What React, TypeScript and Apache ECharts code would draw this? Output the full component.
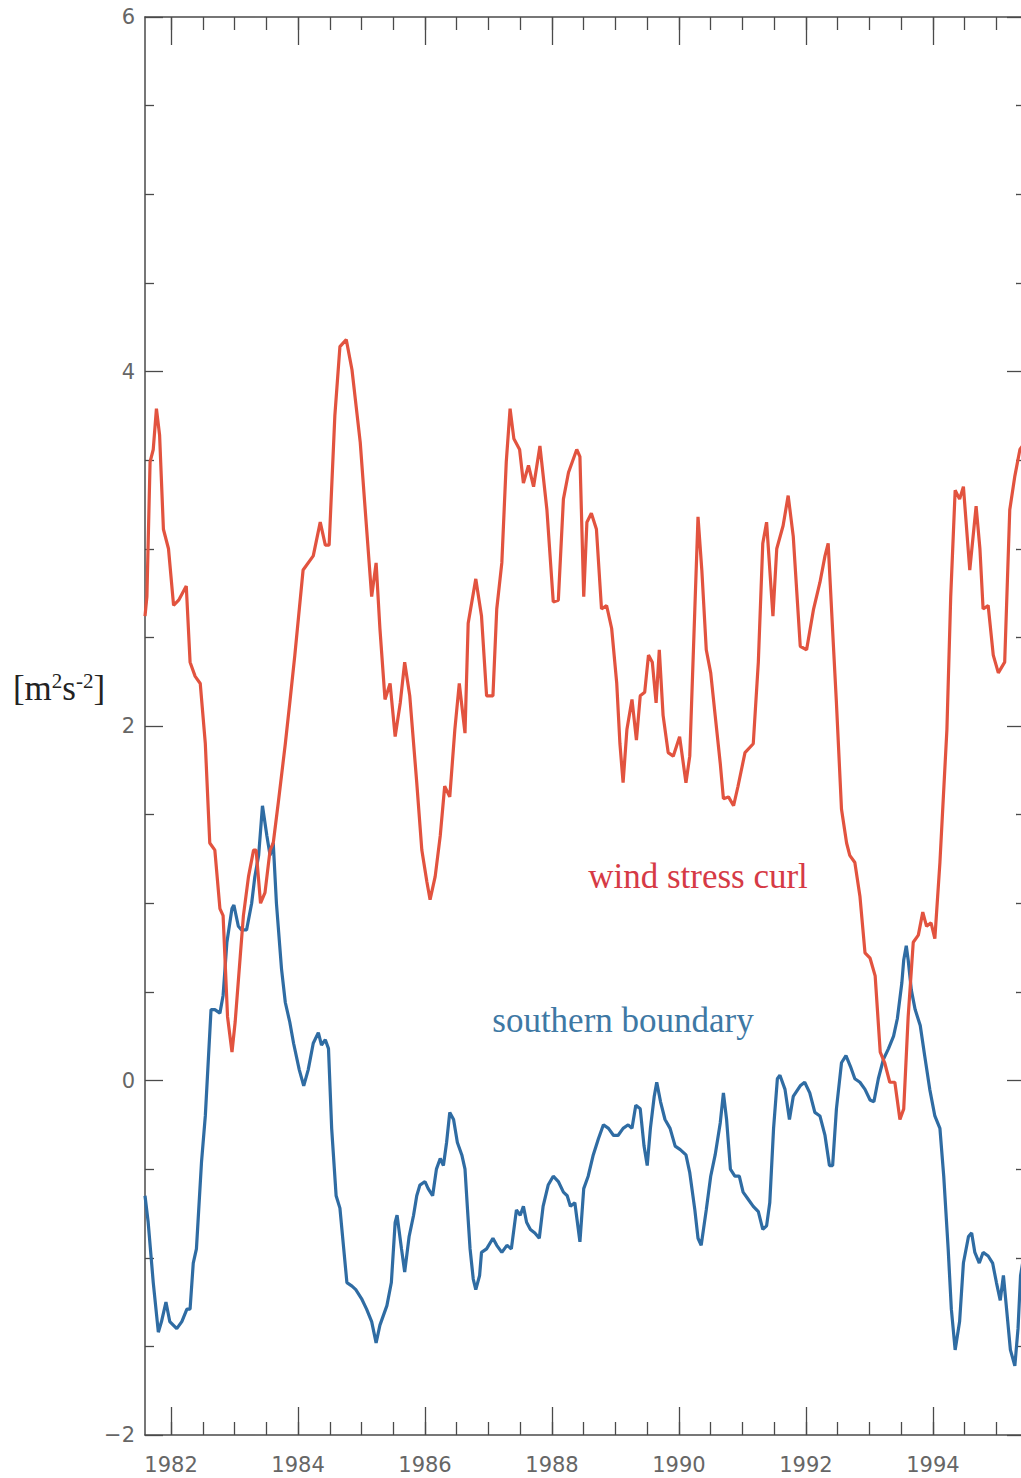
import React, { useEffect, useRef } from "react";
import * as echarts from "echarts";

// ---- data ----
const redYears = [
  1981.59, 1981.62, 1981.67, 1981.72, 1981.77, 1981.82, 1981.88, 1981.96, 1982.04, 1982.12,
  1982.24, 1982.3, 1982.38, 1982.46, 1982.54, 1982.61, 1982.69, 1982.77, 1982.82, 1982.89,
  1982.96, 1983.01, 1983.09, 1983.14, 1983.22, 1983.3, 1983.34, 1983.41, 1983.48, 1983.56,
  1983.61, 1983.69, 1983.8, 1983.87, 1983.95, 1984.08, 1984.24, 1984.35, 1984.43, 1984.49,
  1984.58, 1984.66, 1984.76, 1984.85, 1984.98, 1985.05, 1985.16, 1985.23, 1985.29, 1985.37,
  1985.45, 1985.53, 1985.61, 1985.68, 1985.76, 1985.87, 1985.95, 1986.03, 1986.08, 1986.16,
  1986.24, 1986.31, 1986.39, 1986.47, 1986.54, 1986.63, 1986.68, 1986.8, 1986.89, 1986.97,
  1987.07, 1987.13, 1987.21, 1987.28, 1987.34, 1987.4, 1987.49, 1987.55, 1987.63, 1987.71,
  1987.81, 1987.92, 1988.02, 1988.1, 1988.18, 1988.26, 1988.39, 1988.44, 1988.5, 1988.55,
  1988.62, 1988.7, 1988.78, 1988.86, 1988.94, 1989.02, 1989.07, 1989.12, 1989.18, 1989.26,
  1989.33, 1989.39, 1989.46, 1989.52, 1989.58, 1989.64, 1989.69, 1989.75, 1989.83, 1989.91,
  1990.01, 1990.11, 1990.17, 1990.25, 1990.3, 1990.36, 1990.43, 1990.5, 1990.57, 1990.65,
  1990.7, 1990.78, 1990.86, 1990.93, 1991.04, 1991.17, 1991.25, 1991.32, 1991.38, 1991.48,
  1991.54, 1991.64, 1991.72, 1991.8, 1991.91, 1992.01, 1992.12, 1992.22, 1992.3, 1992.35,
  1992.43, 1992.48, 1992.56, 1992.64, 1992.69, 1992.77, 1992.85, 1992.93, 1993.01, 1993.09,
  1993.17, 1993.24, 1993.32, 1993.4, 1993.48, 1993.54, 1993.61, 1993.69, 1993.77, 1993.84,
  1993.9, 1993.97, 1994.03, 1994.11, 1994.22, 1994.28, 1994.35, 1994.42, 1994.48, 1994.58,
  1994.68, 1994.74, 1994.79, 1994.87, 1994.95, 1995.03, 1995.13, 1995.21, 1995.29, 1995.37,
  1995.45,
];
const redValues = [
  2.62, 2.73, 3.49, 3.56, 3.79, 3.64, 3.11, 3.0, 2.68, 2.71,
  2.79, 2.36, 2.28, 2.24, 1.9, 1.34, 1.3, 0.97, 0.93, 0.36,
  0.16, 0.33, 0.7, 0.93, 1.15, 1.3, 1.3, 1.0, 1.06, 1.3,
  1.34, 1.57, 1.9, 2.13, 2.4, 2.88, 2.96, 3.15, 3.02, 3.02,
  3.75, 4.14, 4.18, 4.01, 3.6, 3.26, 2.73, 2.92, 2.55, 2.15,
  2.24, 1.94, 2.13, 2.36, 2.17, 1.68, 1.3, 1.12, 1.02, 1.15,
  1.38, 1.66, 1.6, 1.98, 2.24, 1.96, 2.58, 2.83, 2.62, 2.17,
  2.17, 2.66, 2.92, 3.49, 3.79, 3.62, 3.56, 3.37, 3.47, 3.35,
  3.58, 3.22, 2.7, 2.71, 3.28, 3.43, 3.56, 3.52, 2.73, 3.15,
  3.2, 3.11, 2.66, 2.68, 2.55, 2.24, 1.9, 1.68, 1.98, 2.15,
  1.92, 2.17, 2.19, 2.4, 2.36, 2.13, 2.43, 2.06, 1.85, 1.83,
  1.94, 1.68, 1.83, 2.66, 3.18, 2.88, 2.43, 2.3, 2.06, 1.79,
  1.59, 1.6, 1.55, 1.66, 1.85, 1.9, 2.36, 3.03, 3.15, 2.62,
  3.0, 3.13, 3.3, 3.07, 2.45, 2.43, 2.66, 2.81, 2.96, 3.03,
  2.47, 2.13, 1.53, 1.34, 1.27, 1.23, 1.04, 0.72, 0.69, 0.59,
  0.16, 0.1, -0.01, -0.01, -0.22, -0.16, 0.36, 0.78, 0.82, 0.95,
  0.87, 0.89, 0.8, 1.23, 1.98, 2.73, 3.33, 3.28, 3.35, 2.88,
  3.24, 3.0, 2.66, 2.68, 2.4, 2.3, 2.36, 3.22, 3.41, 3.56,
  3.6,
];

const blueYears = [
  1981.59, 1981.64, 1981.72, 1981.8, 1981.85, 1981.92, 1981.98, 1982.09, 1982.17, 1982.25,
  1982.3, 1982.35, 1982.4, 1982.48, 1982.54, 1982.63, 1982.69, 1982.77, 1982.82, 1982.88,
  1982.96, 1982.99, 1983.06, 1983.11, 1983.19, 1983.27, 1983.32, 1983.38, 1983.44, 1983.51,
  1983.56, 1983.61, 1983.66, 1983.74, 1983.8, 1983.87, 1983.93, 1984.02, 1984.09, 1984.16,
  1984.24, 1984.32, 1984.37, 1984.43, 1984.48, 1984.53, 1984.6, 1984.66, 1984.72, 1984.77,
  1984.85, 1984.91, 1985.0, 1985.08, 1985.16, 1985.23, 1985.29, 1985.4, 1985.47, 1985.53,
  1985.56, 1985.63, 1985.68, 1985.75, 1985.82, 1985.87, 1985.92, 1986.0, 1986.05, 1986.12,
  1986.18, 1986.24, 1986.29, 1986.34, 1986.39, 1986.45, 1986.51, 1986.58, 1986.63, 1986.67,
  1986.71, 1986.76, 1986.8, 1986.86, 1986.89, 1986.97, 1987.07, 1987.13, 1987.21, 1987.29,
  1987.36, 1987.44, 1987.5, 1987.55, 1987.6, 1987.66, 1987.73, 1987.8, 1987.86, 1987.94,
  1988.02, 1988.1, 1988.18, 1988.24, 1988.29, 1988.36, 1988.44, 1988.5, 1988.57, 1988.65,
  1988.73, 1988.81, 1988.89, 1988.97, 1989.04, 1989.12, 1989.2, 1989.26, 1989.32, 1989.39,
  1989.45, 1989.5, 1989.55, 1989.61, 1989.65, 1989.71, 1989.78, 1989.86, 1989.94, 1990.02,
  1990.11, 1990.17, 1990.25, 1990.3, 1990.35, 1990.43, 1990.5, 1990.57, 1990.65, 1990.7,
  1990.75, 1990.81, 1990.88, 1990.95, 1991.01, 1991.09, 1991.17, 1991.25, 1991.32, 1991.38,
  1991.43, 1991.49, 1991.55, 1991.59, 1991.67, 1991.74, 1991.8, 1991.91, 1991.98, 1992.06,
  1992.14, 1992.22, 1992.3, 1992.37, 1992.42, 1992.48, 1992.56, 1992.63, 1992.7, 1992.77,
  1992.85, 1992.93, 1993.01, 1993.07, 1993.14, 1993.22, 1993.3, 1993.38, 1993.44, 1993.51,
  1993.54, 1993.58, 1993.61, 1993.66, 1993.72, 1993.8, 1993.87, 1993.95, 1994.03, 1994.11,
  1994.17, 1994.24, 1994.29, 1994.35, 1994.42, 1994.48, 1994.56, 1994.61, 1994.66, 1994.73,
  1994.79, 1994.87, 1994.94, 1995.0, 1995.06, 1995.11, 1995.16, 1995.22, 1995.29, 1995.34,
  1995.38, 1995.45,
];
const blueValues = [
  -0.65, -0.8, -1.14, -1.42, -1.36, -1.25, -1.36, -1.4, -1.36, -1.29,
  -1.29, -1.03, -0.95, -0.46, -0.2, 0.4, 0.4, 0.38, 0.48, 0.78,
  0.97, 0.99, 0.87, 0.85, 0.85, 1.0, 1.15, 1.27, 1.55, 1.38,
  1.27, 1.34, 1.0, 0.63, 0.44, 0.33, 0.21, 0.06, -0.03, 0.06,
  0.21, 0.27, 0.2, 0.23, 0.18, -0.27, -0.65, -0.72, -0.95, -1.14,
  -1.16, -1.18, -1.23, -1.29, -1.36, -1.48, -1.38, -1.27, -1.14, -0.8,
  -0.76, -0.95, -1.08, -0.88, -0.76, -0.65, -0.59, -0.57, -0.61, -0.65,
  -0.5, -0.44, -0.48, -0.35, -0.18, -0.22, -0.35, -0.42, -0.5, -0.73,
  -0.95, -1.12, -1.18, -1.1, -0.97, -0.95, -0.89, -0.93, -0.97, -0.93,
  -0.95, -0.73, -0.76, -0.71, -0.8, -0.84, -0.86, -0.89, -0.71, -0.59,
  -0.54, -0.57, -0.63, -0.65, -0.71, -0.69, -0.91, -0.61, -0.54, -0.42,
  -0.33, -0.25, -0.27, -0.31, -0.31, -0.27, -0.25, -0.27, -0.14, -0.16,
  -0.37, -0.48, -0.27, -0.09, -0.01, -0.12, -0.22, -0.27, -0.37, -0.39,
  -0.42, -0.52, -0.73, -0.89, -0.93, -0.73, -0.54, -0.42, -0.24, -0.07,
  -0.22, -0.5, -0.54, -0.54, -0.63, -0.67, -0.71, -0.74, -0.84, -0.82,
  -0.69, -0.27, 0.01, 0.03, -0.05, -0.22, -0.09, -0.03, -0.01, -0.07,
  -0.18, -0.2, -0.31, -0.48, -0.48, -0.16, 0.1, 0.14, 0.08, 0.01,
  -0.01, -0.05, -0.11, -0.12, 0.01, 0.12, 0.18, 0.25, 0.35, 0.55,
  0.68, 0.76, 0.68, 0.51, 0.4, 0.31, 0.14, -0.05, -0.2, -0.27,
  -0.54, -0.95, -1.29, -1.52, -1.36, -1.03, -0.88, -0.86, -0.97, -1.03,
  -0.97, -0.99, -1.03, -1.14, -1.24, -1.1, -1.29, -1.52, -1.61, -1.4,
  -1.1, -0.95,
];

const labelYears = [1982, 1984, 1986, 1988, 1990, 1992, 1994];
const halfYearTicks = [
  1982, 1982.5, 1983, 1983.5, 1984, 1984.5, 1985, 1985.5, 1986, 1986.5, 1987, 1987.5,
  1988, 1988.5, 1989, 1989.5, 1990, 1990.5, 1991, 1991.5, 1992, 1992.5, 1993, 1993.5,
  1994, 1994.5, 1995,
];
const xMin = 1981.59;
const xMax = 1995.45;
const yMin = -2;
const yMax = 6;

const RED = "#e2533f";
const BLUE = "#2f6ca3";
const AXIS = "#4a4a4a";

function zip(xs: number[], ys: number[]) {
  return xs.map((x, i) => [x, ys[i]]);
}

export default function App() {
  const ref = useRef<HTMLDivElement>(null);
  useEffect(() => {
    if (!ref.current) return;
    const chart = echarts.init(ref.current, null, { renderer: "svg" });
    const yLabelFmt = (v: number) => (v < 0 ? "\u2212" + Math.abs(v) : String(v));
    const baseX = {
      type: "value",
      min: xMin,
      max: xMax,
      splitLine: { show: false },
    };
    const xLine = (show: boolean) => ({
      show,
      onZero: false,
      lineStyle: { color: AXIS, width: 1.5 },
    });
    const baseY = {
      type: "value",
      min: yMin,
      max: yMax,
      interval: 2,
      splitLine: { show: false },
      axisLine: { show: true, onZero: false, lineStyle: { color: AXIS, width: 1.5 } },
      axisTick: { show: true, inside: true, length: 18, lineStyle: { color: AXIS, width: 1.3 } },
      minorTick: { show: true, splitNumber: 4, length: 9, lineStyle: { color: AXIS, width: 1.3 } },
    };
    chart.setOption({
      animation: false,
      backgroundColor: "#ffffff",
      grid: { left: 145, top: 17, right: 15, bottom: 43, containLabel: false },
      xAxis: [
        {
          ...baseX,
          position: "bottom",
          axisLine: xLine(true),
          axisTick: {
            show: true,
            inside: true,
            length: 28,
            customValues: labelYears,
            lineStyle: { color: AXIS, width: 1.3 },
          },
          axisLabel: {
            show: true,
            customValues: labelYears,
            formatter: (v: number) => String(v),
            color: "#666",
            fontFamily: "DejaVu Sans",
            fontSize: 21,
            margin: 19,
          },
        },
        {
          ...baseX,
          position: "bottom",
          axisLine: xLine(false),
          axisTick: {
            show: true,
            inside: true,
            length: 13,
            customValues: halfYearTicks,
            lineStyle: { color: AXIS, width: 1.3 },
          },
          axisLabel: { show: false },
        },
        {
          ...baseX,
          position: "top",
          axisLine: xLine(true),
          axisTick: {
            show: true,
            inside: true,
            length: 28,
            customValues: labelYears,
            lineStyle: { color: AXIS, width: 1.3 },
          },
          axisLabel: { show: false },
        },
        {
          ...baseX,
          position: "top",
          axisLine: xLine(false),
          axisTick: {
            show: true,
            inside: true,
            length: 13,
            customValues: halfYearTicks,
            lineStyle: { color: AXIS, width: 1.3 },
          },
          axisLabel: { show: false },
        },
      ],
      yAxis: [
        {
          ...baseY,
          position: "left",
          axisLabel: {
            show: true,
            formatter: yLabelFmt,
            color: "#666",
            fontFamily: "DejaVu Sans",
            fontSize: 21,
            margin: 10,
          },
        },
        {
          ...baseY,
          position: "right",
          axisLabel: { show: false },
        },
      ],
      graphic: [
        {
          type: "text",
          x: 59,
          y: 688,
          style: {
            text: "{n|[m}{s|2}{n|s}{s|-2}{n|]}",
            textAlign: "center",
            textVerticalAlign: "middle",
            fill: "#222",
            rich: {
              n: { fontFamily: "Liberation Serif", fontSize: 35, fill: "#222" },
              s: { fontFamily: "Liberation Serif", fontSize: 21, fill: "#222", verticalAlign: "top" },
            },
          },
        },
        {
          type: "text",
          x: 698,
          y: 876,
          style: {
            text: "wind stress curl",
            textAlign: "center",
            textVerticalAlign: "middle",
            fill: "#d63a45",
            fontFamily: "Liberation Serif",
            fontSize: 35,
          },
        },
        {
          type: "text",
          x: 623,
          y: 1020,
          style: {
            text: "southern boundary",
            textAlign: "center",
            textVerticalAlign: "middle",
            fill: "#3e78a4",
            fontFamily: "Liberation Serif",
            fontSize: 35,
          },
        },
      ],
      series: [
        {
          name: "wind stress curl",
          type: "line",
          xAxisIndex: 0,
          yAxisIndex: 0,
          data: zip(redYears, redValues),
          showSymbol: false,
          symbol: "none",
          lineStyle: { color: RED, width: 3.2 },
          z: 3,
        },
        {
          name: "southern boundary",
          type: "line",
          xAxisIndex: 0,
          yAxisIndex: 0,
          data: zip(blueYears, blueValues),
          showSymbol: false,
          symbol: "none",
          lineStyle: { color: BLUE, width: 3.2 },
          z: 2,
        },
      ],
    });
    return () => chart.dispose();
  }, []);

  return (
    <div
      style={{
        position: "absolute",
        left: 0,
        top: 0,
        width: 1021,
        height: 1478,
        overflow: "hidden",
        background: "#fff",
      }}
    >
      <div ref={ref} style={{ position: "absolute", left: 0, top: 0, width: 1040, height: 1478 }} />
    </div>
  );
}
